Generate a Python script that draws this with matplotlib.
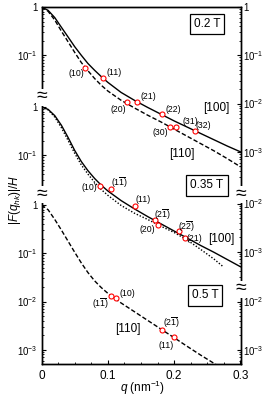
import numpy as np
import matplotlib
matplotlib.use('Agg')
import matplotlib.pyplot as plt

plt.rcParams['font.family'] = ['Liberation Sans', 'DejaVu Sans']
plt.rcParams['mathtext.fontset'] = 'custom'
plt.rcParams['mathtext.rm'] = 'Liberation Sans'
plt.rcParams['mathtext.it'] = 'Liberation Sans:italic'

# q grid used for the curves (nm^-1)
q_grid = [0, 0.01, 0.02, 0.03, 0.04, 0.05, 0.06, 0.07, 0.08, 0.09, 0.10,
          0.12, 0.14, 0.16, 0.18, 0.20, 0.22, 0.24, 0.26, 0.28, 0.30]

# 0.2 T
f02_100 = [1.0, 0.851, 0.603, 0.380, 0.240, 0.151, 0.100, 0.0676, 0.0490, 0.0363, 0.0275,
           0.0170, 0.0117, 0.00832, 0.00603, 0.00437, 0.00324, 0.00240, 0.00178, 0.00132, 0.00100]
f02_110 = [1.0, 0.813, 0.537, 0.316, 0.191, 0.115, 0.0708, 0.0479, 0.0331, 0.0240, 0.0182,
           0.0117, 0.00813, 0.00575, 0.00417, 0.00295, 0.00209, 0.00148, 0.00105, 0.000724, 0.000490]
q02_pts = [0.066, 0.092, 0.129, 0.144, 0.182, 0.193, 0.203, 0.231]
f02_pts = [0.054, 0.034, 0.0106, 0.011, 0.0061, 0.0033, 0.0032, 0.0027]

# 0.35 T
f035_100 = [1.0, 0.891, 0.661, 0.417, 0.234, 0.126, 0.0741, 0.0479, 0.0331, 0.0240, 0.0182,
            0.0115, 0.00776, 0.00537, 0.00380, 0.00269, 0.00191, 0.00135, 0.000977, 0.000692, 0.000490]
q035_110 = [0, 0.01, 0.02, 0.03, 0.04, 0.05, 0.06, 0.07, 0.08, 0.09, 0.10,
            0.12, 0.14, 0.16, 0.18, 0.20, 0.22, 0.24, 0.26, 0.274]
f035_110 = [1.0, 0.871, 0.617, 0.372, 0.204, 0.110, 0.0631, 0.0407, 0.0275, 0.0195, 0.0148,
            0.00912, 0.00631, 0.00468, 0.00339, 0.00251, 0.00174, 0.00112, 0.000708, 0.000490]
q035_pts = [0.088, 0.105, 0.141, 0.171, 0.175, 0.207, 0.216]
f035_pts = [0.0234, 0.020, 0.0089, 0.0046, 0.0036, 0.0027, 0.0019]

# 0.5 T
f05_110 = [1.0, 0.794, 0.501, 0.302, 0.178, 0.105, 0.0631, 0.0398, 0.0269, 0.0195, 0.0148,
           0.00933, 0.00617, 0.00407, 0.00269, 0.00178, 0.00117, 0.000776, 0.000525, 0.000355, 0.000240]
q05_pts = [0.105, 0.112, 0.182, 0.199]
f05_pts = [0.0132, 0.012, 0.0026, 0.0018]

# vertical offsets of the stacked panels (decades)
off = [0.0, 2.07, 4.10]

W, H = 263, 398
fig = plt.figure(figsize=(W / 100, H / 100), dpi=100)
ax = fig.add_axes([41.5 / W, 1 - 364.3 / H, 199 / W, 357.3 / H])
ax.set_yscale('log')
ax.set_xlim(0, 0.3)
ax.set_ylim(10 ** -7.40, 1)


def sh(v, k):
    return np.array(v) * 10 ** (-off[k])


lw = 1.0
ax.plot(q_grid, sh(f02_100, 0), color='black', lw=lw)
ax.plot(q_grid, sh(f02_110, 0), color='black', lw=lw, dashes=(3.2, 1.6))
ax.plot(q_grid, sh(f035_100, 1), color='black', lw=lw)
ax.plot(q035_110, sh(f035_110, 1), color='black', lw=lw, dashes=(1, 1.3))
ax.plot(q_grid, sh(f05_110, 2), color='black', lw=lw, dashes=(3.2, 1.6))

for qs, fs, k in [(q02_pts, f02_pts, 0), (q035_pts, f035_pts, 1), (q05_pts, f05_pts, 2)]:
    ax.plot(qs, sh(fs, k), 'o', ms=3.6, mfc='white', mec='red', mew=0.8, zorder=5)

# ticks
ax.set_xticks([0, 0.1, 0.2, 0.3], ['0', '0.1', '0.2', '0.3'])
ax.set_xticks(np.arange(0, 0.3001, 0.025), minor=True)


def minor_ticks(segments):
    out = []
    for o, gmin, gmax in segments:
        for k in range(-9, 2):
            for m in range(2, 10):
                g = k + np.log10(m) - o
                if gmin <= g <= gmax:
                    out.append(10 ** g)
    return out


left_major = [(0, 0), (0, -1), (1, 0), (1, -1), (2, 0), (2, -1), (2, -2), (2, -3)]
right_major = [(0, 0), (0, -1), (0, -2), (0, -3), (1, -2), (1, -3), (2, -2), (2, -3)]


def lab(e):
    return '1' if e == 0 else r'10$^{\mathregular{%d}}$' % e


ax.set_yticks([10 ** (e - off[p]) for p, e in left_major], [lab(e) for p, e in left_major])
ax.set_yticks(minor_ticks([(off[0], -1.88, 0), (off[1], -3.89, -1.95),
                           (off[2], -7.40, -3.95)]), minor=True)
ax.yaxis.set_minor_formatter(matplotlib.ticker.NullFormatter())

ax2 = ax.twinx()
ax2.set_yscale('log')
ax2.set_ylim(ax.get_ylim())
ax2.set_yticks([10 ** (e - off[p]) for p, e in right_major], [lab(e) for p, e in right_major])
ax2.set_yticks(minor_ticks([(off[0], -3.90, 0), (off[1], -5.86, -3.96),
                            (off[2], -7.40, -5.88)]), minor=True)
ax2.yaxis.set_minor_formatter(matplotlib.ticker.NullFormatter())

for a in (ax, ax2):
    a.tick_params(which='major', direction='in', length=3, width=0.8, labelsize=7, pad=3)
    a.tick_params(which='minor', direction='in', length=1.6, width=0.6)
    for s in a.spines.values():
        s.set_linewidth(1.0)
ax2.tick_params(which='major', pad=2)
ax.tick_params(axis='x', labelsize=8.5, pad=4)

fig.text(15 / W, 1 - 200 / H, r'$|F(q_{hk})|/H$', rotation=90, ha='center', va='center', fontsize=8.5)
fig.text(143 / W, 1 - 388 / H, r'$q$ (nm$^{-1}$)', ha='center', va='center', fontsize=8.5)

# axis breaks
for x, y in [(41.5, 97), (41.5, 194), (240.5, 195), (240.5, 289)]:
    fig.text(x / W, 1 - y / H, '≈', ha='center', va='center', fontsize=14,
             bbox=dict(fc='white', ec='none', pad=0.0), zorder=10)

# field boxes
for x, y, s in [(207, 24, '0.2 T'), (207, 185.5, '0.35 T'), (205, 295.5, '0.5 T')]:
    fig.text(x / W, 1 - y / H, s, ha='center', va='center', fontsize=8.5,
             bbox=dict(fc='white', ec='black', lw=0.9, boxstyle='square,pad=0.35'))

# direction labels
for x, y, s in [(216.7, 108.3, '[100]'), (181.7, 154, '[110]'),
                (221.7, 239, '[100]'), (128.3, 329, '[110]')]:
    fig.text(x / W, 1 - y / H, s, ha='center', va='center', fontsize=8.5)

# reflection labels
b1 = r'$\overline{\mathregular{1}}$'
b2 = r'$\overline{\mathregular{2}}$'
hkl = [(76, 74, '(10)'), (114, 72.7, '(11)'), (118.3, 109.3, '(20)'), (148.3, 96.7, '(21)'),
       (173.3, 109.3, '(22)'), (160, 132.3, '(30)'), (190, 121.7, '(31)'), (203.3, 126, '(32)'),
       (89.3, 187.3, '(10)'), (120, 183.3, '(1' + b1 + ')'), (142.7, 200, '(11)'),
       (162.3, 215, '(2' + b1 + ')'), (147.3, 229, '(20)'), (186.7, 226.7, '(2' + b2 + ')'),
       (194.7, 238.3, '(21)'),
       (101, 304, '(1' + b1 + ')'), (127.7, 293.3, '(10)'), (171.7, 323.3, '(2' + b1 + ')'),
       (165.7, 346, '(11)')]
for x, y, s in hkl:
    fig.text(x / W, 1 - y / H, s, ha='center', va='center', fontsize=6.3)

fig.savefig('out.png', dpi=100)
